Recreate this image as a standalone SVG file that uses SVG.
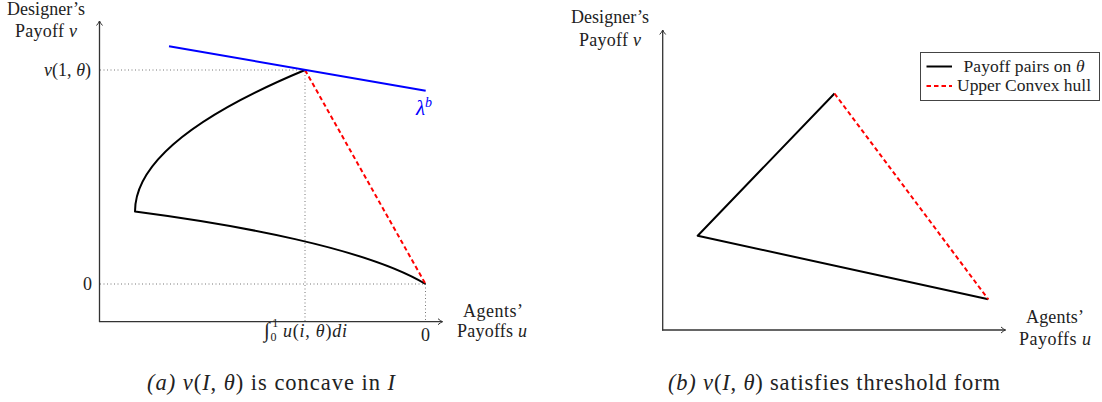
<svg xmlns="http://www.w3.org/2000/svg" width="1102" height="402" viewBox="0 0 1102 402">
<defs>
<style>
text{font-family:'Liberation Serif','Times New Roman','DejaVu Serif',serif;fill:#222;}
.lbl{font-size:18px;}
.cap{font-size:22.5px;}
.leg{font-size:17.5px;}
.it{font-style:italic;}
.axis{stroke:#333;stroke-width:1.3;fill:none;}
.dot{stroke:#666;stroke-width:0.9;stroke-dasharray:1 2.5;fill:none;}
.curve{stroke:#000;stroke-width:2;fill:none;stroke-linejoin:round;}
.hull{stroke:#ff0000;stroke-width:2;stroke-dasharray:4.5 3;fill:none;}
.tan{stroke:#0000ff;stroke-width:2;fill:none;}
</style>
<marker id="arr" markerWidth="10" markerHeight="10" refX="0" refY="0" viewBox="-6 -5 8 10" orient="auto" markerUnits="userSpaceOnUse">
<path d="M-4.5,-3 Q-2,-0.8 0,0 Q-2,0.8 -4.5,3" stroke="#333" stroke-width="1" fill="none"/>
</marker>
</defs>
<rect width="1102" height="402" fill="#fff"/>

<g id="panel-a" font-family="Liberation Serif, serif">
<g id="a-guides">
<path class="dot" d="M100,70 H305 V321"/>
<path class="dot" d="M100,284 H425.5 V321"/>
</g>
<g id="a-axes">
<path class="axis" d="M99.5,322 V21" marker-end="url(#arr)"/>
<path class="axis" d="M99,321.7 H442.5" marker-end="url(#arr)"/>
</g>
<g id="a-curves">
<path class="curve" d="M305,70 Q135,140.75 135,211.5 C234.5,224.5 365.5,248 425.5,284"/>
<path class="hull" d="M305,70 L425.5,284"/>
<path class="tan" d="M169,46.3 L425.7,90.7"/>
</g>
<g id="a-labels">
<text class="lbl" x="46" y="15" text-anchor="middle" textLength="78">Designer’s</text>
<text class="lbl" x="46" y="37" text-anchor="middle" textLength="62">Payoff <tspan class="it">v</tspan></text>
<text class="lbl" x="91" y="76" text-anchor="end" textLength="47"><tspan class="it">v</tspan>(1, <tspan class="it">θ</tspan>)</text>
<text class="lbl" x="92" y="290" text-anchor="end">0</text>
<text class="lbl" x="425.5" y="341" text-anchor="middle">0</text>
<text class="lbl" x="264" y="337" textLength="83"><tspan font-size="21">∫</tspan><tspan font-size="12" dy="4">0</tspan><tspan font-size="12" dx="-5" dy="-14">1</tspan><tspan class="it" dx="4" dy="10">u</tspan>(<tspan class="it">i</tspan>, <tspan class="it">θ</tspan>)<tspan class="it">di</tspan></text>
<text class="lbl" x="493" y="317" text-anchor="middle" textLength="60">Agents’</text>
<text class="lbl" x="492" y="337" text-anchor="middle" textLength="70">Payoffs <tspan class="it">u</tspan></text>
<text x="416" y="115" font-size="21" style="fill:#0000ff"><tspan class="it">λ</tspan><tspan class="it" font-size="14" dy="-8">b</tspan></text>
</g>
<text class="cap" x="147" y="390" textLength="248"><tspan class="it">(a)</tspan> <tspan class="it">v</tspan>(<tspan class="it">I</tspan>, <tspan class="it">θ</tspan>) is concave in <tspan class="it">I</tspan></text>
</g>

<g id="panel-b" font-family="Liberation Serif, serif">
<g id="b-axes">
<path class="axis" d="M662.7,330.5 V30" marker-end="url(#arr)"/>
<path class="axis" d="M662,330 H1005.5" marker-end="url(#arr)"/>
</g>
<g id="b-curves">
<path class="curve" d="M834.5,93.5 L697.7,235.7 L988.3,299.3"/>
<path class="hull" d="M834.5,93.5 L988.3,299.3"/>
</g>
<g id="b-labels">
<text class="lbl" x="610" y="23" text-anchor="middle" textLength="78">Designer’s</text>
<text class="lbl" x="610" y="46" text-anchor="middle" textLength="62">Payoff <tspan class="it">v</tspan></text>
<text class="lbl" x="1055" y="323" text-anchor="middle" textLength="58">Agents’</text>
<text class="lbl" x="1055" y="345" text-anchor="middle" textLength="72">Payoffs <tspan class="it">u</tspan></text>
</g>
<g id="b-legend">
<rect x="920.5" y="52.5" width="179" height="48" fill="#fff" stroke="#444" stroke-width="1"/>
<path class="curve" d="M926.5,66.5 H952" stroke-width="1.8"/>
<path class="hull" d="M926.5,86 H952" stroke-width="1.8" stroke-dasharray="4 3"/>
<text class="leg" x="1024" y="71.5" text-anchor="middle" textLength="121">Payoff pairs on <tspan class="it">θ</tspan></text>
<text class="leg" x="1024" y="91" text-anchor="middle" textLength="134">Upper Convex hull</text>
</g>
<text class="cap" x="668" y="390" textLength="332"><tspan class="it">(b)</tspan> <tspan class="it">v</tspan>(<tspan class="it">I</tspan>, <tspan class="it">θ</tspan>) satisfies threshold form</text>
</g>
</svg>
